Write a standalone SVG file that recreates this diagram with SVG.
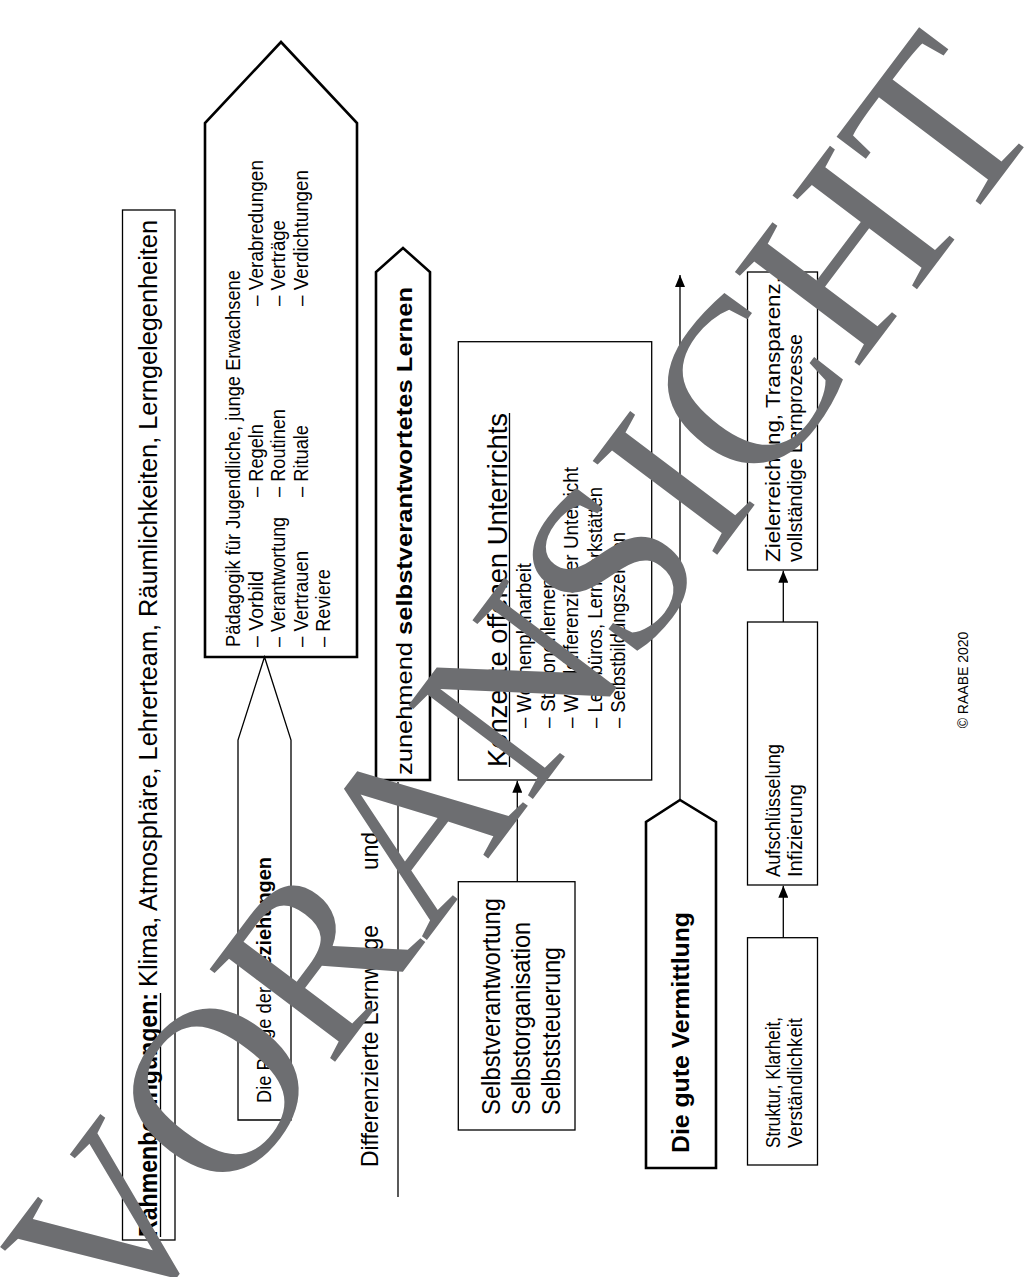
<svg xmlns="http://www.w3.org/2000/svg" width="1027" height="1277" viewBox="0 0 1027 1277">
<defs>
<style>
text{font-family:"Liberation Sans",Arial,sans-serif;fill:#000}
.b{font-weight:bold}
.box{fill:#fff;stroke:#000;stroke-width:1.3}
.thick{fill:#fff;stroke:#000;stroke-width:2.6;stroke-linejoin:miter}
.ln{stroke:#000;stroke-width:1.3;fill:none}
.wm{font-family:"Liberation Serif","Times New Roman",serif;fill:#6d6e71}
</style>
<marker id="ah" viewBox="0 0 12 10" refX="12" refY="5" markerWidth="12" markerHeight="10" markerUnits="userSpaceOnUse" orient="auto"><path d="M0,0L12,5L0,10z" fill="#000"/></marker>
</defs>
<rect width="1027" height="1277" fill="#fff"/>

<g id="rahmen">
<rect class="box" x="122.5" y="210" width="52.5" height="1030"/>
<text class="b" font-size="25" transform="translate(157,1237) rotate(-90)" textLength="244" lengthAdjust="spacingAndGlyphs">Rahmenbedingungen:</text>
<line class="ln" x1="160.5" y1="1237" x2="160.5" y2="993" stroke-width="1.6"/>
<text font-size="25" transform="translate(157,987) rotate(-90)" textLength="767" lengthAdjust="spacingAndGlyphs">Klima, Atmosphäre, Lehrerteam, Räumlichkeiten, Lerngelegenheiten</text>
</g>

<g id="paedagogik">
<polygon class="thick" points="205,657 205,123 281,42 357,123 357,657"/>
<text font-size="20" transform="translate(240,647) rotate(-90)" textLength="377" lengthAdjust="spacingAndGlyphs">Pädagogik für Jugendliche, junge Erwachsene</text>
<text font-size="20" transform="translate(262.5,647) rotate(-90)" textLength="76" lengthAdjust="spacingAndGlyphs">– Vorbild</text>
<text font-size="20" transform="translate(262.5,497) rotate(-90)" textLength="73" lengthAdjust="spacingAndGlyphs">– Regeln</text>
<text font-size="20" transform="translate(262.5,306) rotate(-90)" textLength="146" lengthAdjust="spacingAndGlyphs">– Verabredungen</text>
<text font-size="20" transform="translate(285,647) rotate(-90)" textLength="130" lengthAdjust="spacingAndGlyphs">– Verantwortung</text>
<text font-size="20" transform="translate(285,497) rotate(-90)" textLength="88" lengthAdjust="spacingAndGlyphs">– Routinen</text>
<text font-size="20" transform="translate(285,306) rotate(-90)" textLength="86" lengthAdjust="spacingAndGlyphs">– Verträge</text>
<text font-size="20" transform="translate(307.5,647) rotate(-90)" textLength="96" lengthAdjust="spacingAndGlyphs">– Vertrauen</text>
<text font-size="20" transform="translate(307.5,497) rotate(-90)" textLength="72" lengthAdjust="spacingAndGlyphs">– Rituale</text>
<text font-size="20" transform="translate(307.5,306) rotate(-90)" textLength="136" lengthAdjust="spacingAndGlyphs">– Verdichtungen</text>
<text font-size="20" transform="translate(330,647) rotate(-90)" textLength="78" lengthAdjust="spacingAndGlyphs">– Reviere</text>
</g>

<g id="pflege">
<polygon class="box" points="238,1120 238,740 264.5,657 291,740 291,1120"/>
<text font-size="20" transform="translate(271,1103) rotate(-90)" textLength="116" lengthAdjust="spacingAndGlyphs">Die Pflege der</text>
<text class="b" font-size="20" transform="translate(271,981) rotate(-90)" textLength="124" lengthAdjust="spacingAndGlyphs">Beziehungen</text>
</g>

<g id="zunehmend">
<polygon class="thick" points="376,780 376,272 403,248 430,272 430,780"/>
<text font-size="22" transform="translate(412,775) rotate(-90)" textLength="133" lengthAdjust="spacingAndGlyphs">zunehmend</text>
<text class="b" font-size="22" transform="translate(412,635) rotate(-90)" textLength="348" lengthAdjust="spacingAndGlyphs">selbstverantwortetes Lernen</text>
</g>

<g id="differenzierte">
<line class="ln" x1="398" y1="782" x2="398" y2="1197"/>
<text font-size="24" transform="translate(378,1167) rotate(-90)" textLength="242" lengthAdjust="spacingAndGlyphs">Differenzierte Lernwege</text>
<text font-size="24" transform="translate(378,870) rotate(-90)" textLength="38" lengthAdjust="spacingAndGlyphs">und</text>
</g>

<g id="konzepte">
<rect class="box" x="458.3" y="341.7" width="193.4" height="438.3"/>
<text font-size="28" transform="translate(507,767) rotate(-90)" textLength="354" lengthAdjust="spacingAndGlyphs">Konzepte offenen Unterrichts</text>
<line class="ln" x1="509.5" y1="767" x2="509.5" y2="413" stroke-width="1.6"/>
<text font-size="20" transform="translate(531,728) rotate(-90)" textLength="165" lengthAdjust="spacingAndGlyphs">– Wochenplanarbeit</text>
<text font-size="20" transform="translate(554.5,728) rotate(-90)" textLength="150" lengthAdjust="spacingAndGlyphs">– Stationenlernen</text>
<text font-size="20" transform="translate(578,728) rotate(-90)" textLength="261" lengthAdjust="spacingAndGlyphs">– Wahldifferenzierter Unterricht</text>
<text font-size="20" transform="translate(601.5,728) rotate(-90)" textLength="241" lengthAdjust="spacingAndGlyphs">– Lernbüros, Lernwerkstätten</text>
<text font-size="20" transform="translate(625,728) rotate(-90)" textLength="196" lengthAdjust="spacingAndGlyphs">– Selbstbildungszentren</text>
</g>

<g id="selbst">
<rect class="box" x="458.3" y="881.7" width="116.7" height="248.3"/>
<text font-size="26" transform="translate(500,1115) rotate(-90)" textLength="217" lengthAdjust="spacingAndGlyphs">Selbstverantwortung</text>
<text font-size="26" transform="translate(530,1115) rotate(-90)" textLength="193" lengthAdjust="spacingAndGlyphs">Selbstorganisation</text>
<text font-size="26" transform="translate(560,1115) rotate(-90)" textLength="168" lengthAdjust="spacingAndGlyphs">Selbststeuerung</text>
</g>

<g id="vermittlung">
<polygon class="thick" points="646,1168 646,822 680,800 716,822 716,1168"/>
<text class="b" font-size="23" transform="translate(689,1153) rotate(-90)" textLength="241" lengthAdjust="spacingAndGlyphs">Die gute Vermittlung</text>
</g>

<g id="ziel">
<rect class="box" x="747.5" y="272" width="70" height="298"/>
<text font-size="20" transform="translate(780,562) rotate(-90)" textLength="285" lengthAdjust="spacingAndGlyphs">Zielerreichung, Transparenz,</text>
<text font-size="20" transform="translate(802,562) rotate(-90)" textLength="228" lengthAdjust="spacingAndGlyphs">vollständige Lernprozesse</text>
</g>

<g id="aufschluesselung">
<rect class="box" x="747.5" y="622" width="70" height="263"/>
<text font-size="20" transform="translate(780,877) rotate(-90)" textLength="133" lengthAdjust="spacingAndGlyphs">Aufschlüsselung</text>
<text font-size="20" transform="translate(802,877) rotate(-90)" textLength="93" lengthAdjust="spacingAndGlyphs">Infizierung</text>
</g>

<g id="struktur">
<rect class="box" x="747.5" y="937.7" width="70" height="227.3"/>
<text font-size="20" transform="translate(780,1148) rotate(-90)" textLength="131" lengthAdjust="spacingAndGlyphs">Struktur, Klarheit,</text>
<text font-size="20" transform="translate(802,1148) rotate(-90)" textLength="130" lengthAdjust="spacingAndGlyphs">Verständlichkeit</text>
</g>

<g id="connectors">
<line class="ln" x1="517.3" y1="881.7" x2="517.3" y2="780.7" marker-end="url(#ah)"/>
<line class="ln" x1="680" y1="800" x2="680" y2="275" marker-end="url(#ah)"/>
<line class="ln" x1="783.3" y1="937.7" x2="783.3" y2="885.7" marker-end="url(#ah)"/>
<line class="ln" x1="783.3" y1="622" x2="783.3" y2="570.7" marker-end="url(#ah)"/>
</g>

<g id="copyright">
<text font-size="14" transform="translate(968,680) rotate(-90)" text-anchor="middle">© RAABE 2020</text>
</g>

<g id="watermark">
<text class="wm" font-size="238" transform="translate(123,1343) rotate(-53)">VORANSICHT</text>
</g>
</svg>
